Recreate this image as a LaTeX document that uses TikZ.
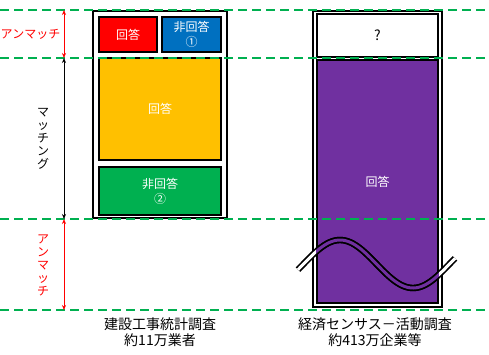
\documentclass[tikz,border=0pt]{standalone}
\usepackage{fontspec}
\setmainfont{Noto Sans CJK JP}
\usetikzlibrary{arrows.meta}
\definecolor{gline}{HTML}{00B050}
\definecolor{cred}{HTML}{FF0000}
\definecolor{cblue}{HTML}{0070C0}
\definecolor{cyellow}{HTML}{FFC000}
\definecolor{cgreen}{HTML}{00B050}
\definecolor{cpurple}{HTML}{7030A0}
\begin{document}
\begin{tikzpicture}[x=1pt,y=-1pt,
  outerbox/.style={draw=black, line width=2pt, fill=white, inner sep=0pt},
  cell/.style={draw=black, line width=1.6pt, inner sep=0pt, text=white, align=center,
    font=\fontsize{12}{15}\selectfont},
  gdash/.style={draw=gline, line width=2.6pt, dash pattern=on 9pt off 5pt},
  dimarrow/.style={line width=0.8pt, {Stealth[length=5pt,width=4pt]}-{Stealth[length=5pt,width=4pt]}},
  lbl/.style={font=\fontsize{12}{13}\selectfont, align=center, inner sep=0pt},
  caption/.style={font=\fontsize{14}{16}\selectfont, align=center, inner sep=0pt},
  wave/.style={line width=1.7pt, draw=black, double distance=3pt}
]
\useasboundingbox (0,0) rectangle (489,354);

% left column
\node[outerbox, minimum width=134pt, minimum height=207pt] (lout) at (160,114.5) {};
\node[cell, fill=cred, minimum width=58pt, minimum height=35pt] (lred) at (128,34.5) {回答};
\node[cell, fill=cblue, minimum width=59pt, minimum height=35pt] (lblue) at (191.5,34.5) {非回答\\①};
\node[cell, fill=cyellow, minimum width=122pt, minimum height=102pt] (lyel) at (160,109) {回答};
\node[cell, fill=cgreen, minimum width=122pt, minimum height=48pt] (lgrn) at (160,191) {非回答\\②};

% right column
\node[outerbox, minimum width=129pt, minimum height=296pt] (rout) at (377.5,159) {};
\node[cell, fill=white, text=black, minimum width=121pt, minimum height=43pt,
  font=\fontsize{14}{15}\selectfont] (rwht) at (377.5,35.5) {?};
\node[cell, fill=cpurple, minimum width=121pt, minimum height=243pt] (rpur) at (377.5,181.5) {回答};

% wave break
\draw[wave, double=white] plot[domain=298:455, samples=80] (\x, {264 - 24*cos((\x-340)/146*360)});
\begin{scope}
  \clip (rpur.north west) rectangle (rpur.south east);
  \draw[wave, double=cpurple] plot[domain=298:455, samples=80] (\x, {264 - 24*cos((\x-340)/146*360)});
\end{scope}

% green dashed lines
\coordinate (g1a) at (0,10);   \coordinate (g1b) at (489,10);
\coordinate (g2a) at (0,58);   \coordinate (g2b) at (489,58);
\coordinate (g3a) at (0,219);  \coordinate (g3b) at (489,219);
\coordinate (g4a) at (0,310);  \coordinate (g4b) at (489,310);
\draw[gdash] (g1a) -- (g1b);
\draw[gdash] (g2a) -- (g2b);
\draw[gdash] (g3a) -- (g3b);
\draw[gdash] (g4a) -- (g4b);

% dimension arrows
\coordinate (a1) at (64,10);
\coordinate (a2) at (64,58);
\coordinate (a3) at (64,219);
\coordinate (a4) at (64,310);
\draw[dimarrow, cred] (a1) -- (a2);
\draw[dimarrow, black] (a2) -- (a3);
\draw[dimarrow, cred] (a3) -- (a4);

\node[lbl, text=cred] (t1) at (30.5,34) {アンマッチ};
\node[lbl, text=black] (t2) at (43,139) {マ\\ッ\\チ\\ン\\グ};
\node[lbl, text=cred] (t3) at (43,265) {ア\\ン\\マ\\ッ\\チ};

% captions
\node[caption] (c1) at (160,332) {建設工事統計調査\\約11万業者};
\node[caption] (c2) at (375,332) {経済センサス－活動調査\\約413万企業等};
\end{tikzpicture}
\end{document}
